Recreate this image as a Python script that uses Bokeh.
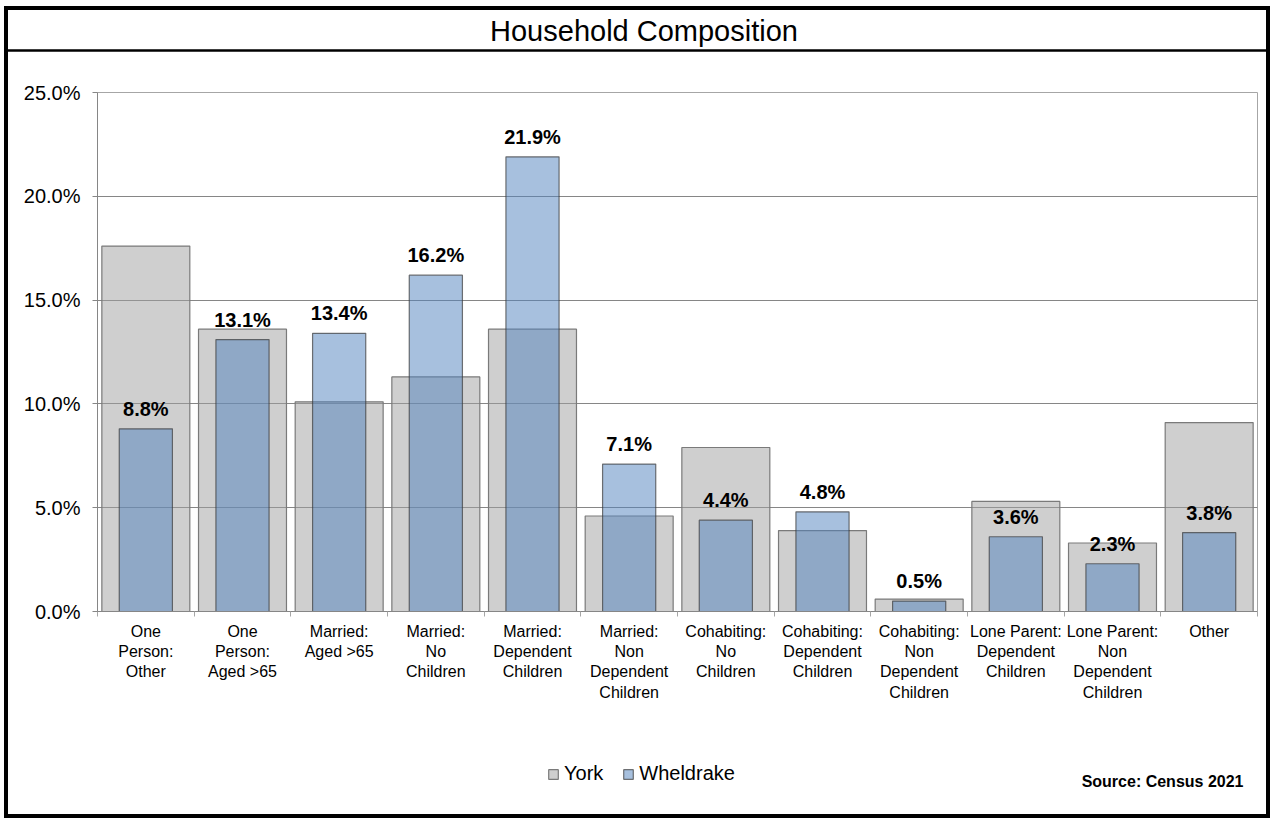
from bokeh.plotting import figure
from bokeh.layouts import column
from bokeh.models import (Range1d, FixedTicker, PrintfTickFormatter, ColumnDataSource,
                          LabelSet, Label, Legend, LegendItem, Span)
from bokeh.core.properties import value
from bokeh.embed import file_html
from bokeh.resources import INLINE

categories = [
    "One\nPerson:\nOther",
    "One\nPerson:\nAged >65",
    "Married:\nAged >65",
    "Married:\nNo\nChildren",
    "Married:\nDependent\nChildren",
    "Married:\nNon\nDependent\nChildren",
    "Cohabiting:\nNo\nChildren",
    "Cohabiting:\nDependent\nChildren",
    "Cohabiting:\nNon\nDependent\nChildren",
    "Lone Parent:\nDependent\nChildren",
    "Lone Parent:\nNon\nDependent\nChildren",
    "Other",
]
york = [17.6, 13.6, 10.1, 11.3, 13.6, 4.6, 7.9, 3.9, 0.6, 5.3, 3.3, 9.1]
wheldrake = [8.8, 13.1, 13.4, 16.2, 21.9, 7.1, 4.4, 4.8, 0.5, 3.6, 2.3, 3.8]
y_ticks = [0, 5, 10, 15, 20, 25]
series_names = ["York", "Wheldrake"]
title_text = "Household Composition"
source_text = "Source: Census 2021"

FONT = "Liberation Sans"
W = 1266
HH, HM, HF = 46, 676, 90
n = len(categories)
xs = [i + 0.5 for i in range(n)]

YORK_STYLE = dict(fill_color="#A0A0A0", fill_alpha=0.5, line_color="#7A7A7A", line_width=1.2)
WH_STYLE = dict(fill_color="#4F81BD", fill_alpha=0.5, line_color="#3A3A3A", line_alpha=0.7, line_width=1.2)


def blank_fig(h):
    f = figure(width=W, height=h, output_backend="svg", toolbar_location=None,
               x_range=Range1d(0, W), y_range=Range1d(0, h),
               x_axis_type=None, y_axis_type=None,
               min_border=0, min_border_left=0, min_border_right=0,
               min_border_top=0, min_border_bottom=0)
    f.frame_align = False
    f.outline_line_color = None
    f.background_fill_alpha = 0
    f.border_fill_alpha = 0
    f.grid.visible = False
    return f


# ---- header ----
head = blank_fig(HH)
head.add_layout(Label(x=639.5, y=22, text=title_text, text_align="center", text_baseline="middle",
                      text_font=FONT, text_font_size="29px", text_color="black"))
head.add_layout(Span(location=2, dimension="width", line_color="black", line_width=2.5))

# ---- main chart ----
p = figure(width=W, height=HM, output_backend="svg", toolbar_location=None,
           x_range=Range1d(0, n), y_range=Range1d(0, 25),
           min_border_left=93, min_border_right=13, min_border_top=40, min_border_bottom=117)
p.frame_align = False
p.background_fill_color = "white"
p.border_fill_alpha = 0
p.outline_line_color = "#A6A6A6"

src = ColumnDataSource(dict(x=xs, york=york, wh=wheldrake,
                            lbl=[f"{v:.1f}%" for v in wheldrake]))

p.vbar(x="x", top="york", width=0.91, bottom=0, source=src, **YORK_STYLE)
p.vbar(x="x", top="wh", width=0.55, bottom=0, source=src, **WH_STYLE)

p.add_layout(LabelSet(x="x", y="wh", text="lbl", source=src, y_offset=13,
                      text_align="center", text_baseline="alphabetic",
                      text_font=value(FONT), text_font_style="bold", text_font_size="20px",
                      text_color="black"))

p.xaxis.ticker = FixedTicker(ticks=xs, minor_ticks=list(range(n + 1)))
p.xaxis.major_label_overrides = {x: lab for x, lab in zip(xs, categories)}
p.xaxis.major_tick_line_color = None
p.xaxis.major_tick_out = 5
p.xaxis.major_tick_in = 0
p.xaxis.minor_tick_out = 5
p.xaxis.minor_tick_in = 0
p.xaxis.minor_tick_line_color = "#A6A6A6"
p.xaxis.axis_line_color = "#868686"
p.xaxis.major_label_text_font = FONT
p.xaxis.major_label_text_font_size = "16px"
p.xaxis.major_label_text_color = "black"
p.xaxis.major_label_standoff = 6

p.yaxis.ticker = FixedTicker(ticks=y_ticks)
p.yaxis.formatter = PrintfTickFormatter(format="%.1f%%")
p.yaxis.minor_tick_line_color = None
p.yaxis.major_tick_out = 5
p.yaxis.major_tick_in = 0
p.yaxis.major_tick_line_color = "#868686"
p.yaxis.axis_line_color = "#868686"
p.yaxis.major_label_text_font = FONT
p.yaxis.major_label_text_font_size = "20px"
p.yaxis.major_label_text_color = "black"
p.yaxis.major_label_standoff = 12

p.xgrid.grid_line_color = None
p.ygrid.ticker = FixedTicker(ticks=y_ticks)
p.ygrid.grid_line_color = "#868686"

# ---- footer: legend + source ----
foot = blank_fig(HF)
k1 = foot.vbar(x="x", top="york", width=0.91, source=src, visible=False, **YORK_STYLE)
k2 = foot.vbar(x="x", top="wh", width=0.55, source=src, visible=False, **WH_STYLE)
legend = Legend(items=[LegendItem(label=series_names[0], renderers=[k1]),
                       LegendItem(label=series_names[1], renderers=[k2])],
                orientation="horizontal", location=(543, 33),
                glyph_width=12, glyph_height=12, label_text_font=FONT,
                label_text_font_size="20px", label_text_color="black",
                spacing=19, label_standoff=5,
                inactive_fill_alpha=0,
                padding=0, margin=0, border_line_color=None, background_fill_alpha=0)
foot.add_layout(legend)
foot.add_layout(Label(x=1239, y=37, text=source_text, text_align="right", text_baseline="middle",
                      text_font=FONT, text_font_style="bold", text_font_size="16px",
                      text_color="black"))

layout = column(head, p, foot, spacing=0, margin=(6, 0, 0, 4),
                styles={"outline": "4px solid black", "outline-offset": "-4px",
                        "background-color": "white"})

open("out.html", "w").write(file_html(layout, INLINE))
